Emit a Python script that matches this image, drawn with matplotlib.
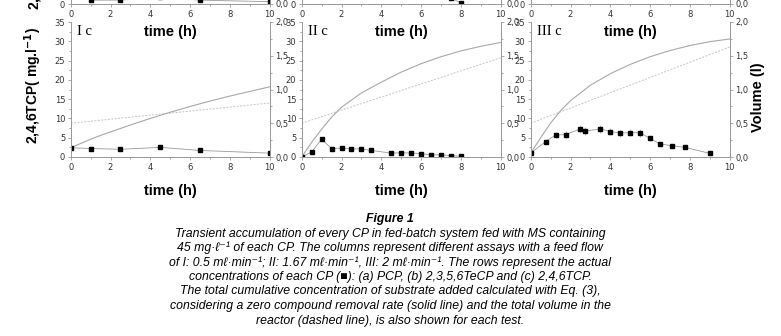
import numpy as np
import matplotlib.pyplot as plt
from matplotlib.ticker import MultipleLocator, FuncFormatter

# row (c) 2,4,6TCP measured, mg/l
t_I = [0, 1, 2.5, 4.5, 6.5, 10]
tcp_I = [2.4, 2.2, 2.0, 2.5, 1.7, 1.0]

t_II = [0, 0.5, 1, 1.5, 2, 2.5, 3, 3.5, 4.5, 5, 5.5, 6, 6.5, 7, 7.5, 8]
tcp_II = [0.0, 1.3, 4.6, 2.2, 2.3, 2.1, 2.1, 1.7, 1.0, 1.1, 1.0, 0.9, 0.5, 0.6, 0.3, 0.2]

t_III = [0, 0.75, 1.25, 1.75, 2.5, 2.75, 3.5, 4, 4.5, 5, 5.5, 6, 6.5, 7.1, 7.75, 9]
tcp_III = [1.0, 4.0, 5.7, 5.8, 7.3, 6.7, 7.3, 6.6, 6.2, 6.3, 6.3, 4.8, 3.4, 2.9, 2.5, 0.95]
err_III = [0.3, 0.4, 0.9, 0.9, 1.0, 1.1, 1.1, 1.0, 0.9, 0.9, 1.0, 0.6, 0.4, 0.3, 0.3, 0.3]

# total cumulative concentration added (solid line)
t_cum = [0, 0.5, 1, 1.5, 2, 3, 4, 5, 6, 7, 8, 9, 10]
cum_I = [2.4, 3.5, 4.6, 5.6, 6.5, 8.3, 10.0, 11.6, 13.1, 14.5, 15.8, 17.0, 18.2]
cum_II = [0.0, 3.8, 7.2, 10.3, 12.9, 16.6, 19.4, 22.0, 24.2, 26.0, 27.5, 28.7, 29.7]
cum_III = [1.0, 5.0, 8.8, 12.0, 14.6, 18.6, 21.6, 24.0, 26.0, 27.6, 28.9, 29.9, 30.6]

# reactor volume, l (dashed line)
t_vol = [0, 10]
vol_I = [0.5, 0.8]
vol_II = [0.5, 1.47]
vol_III = [0.5, 1.63]

# row (b) 2,3,5,6TeCP, only the bottom of it is in the picture
t_b_I = [1, 2.5, 4.5, 6.5, 10]
tecp_I = [1.0, 1.0, 1.7, 1.0, 0.6]
t_b_II = [7.5, 8]
tecp_II = [1.5, 0.3]

panel_names = ['I c', 'II c', 'III c']

W, H = 781, 336
fig = plt.figure(figsize=(W / 100, H / 100), dpi=100)

spine_col = '#9a9a9a'
tick_col = '#333333'
comma = FuncFormatter(lambda v, p: f'{v:.1f}'.replace('.', ','))

lefts = [70.7, 301.7, 530.7]
width = 199.0


def style_axes(ax, ax2):
    for a in (ax, ax2):
        a.spines['top'].set_visible(False)
        for s in ('left', 'right', 'bottom'):
            a.spines[s].set_color(spine_col)
            a.spines[s].set_linewidth(0.7)
        a.tick_params(which='both', direction='out', colors=spine_col,
                      labelcolor=tick_col, labelsize=6, width=0.6)
        a.tick_params(which='major', length=2.5, pad=1.5)
        a.tick_params(which='minor', length=1.5)
    ax.set_xlim(0, 10)
    ax.set_ylim(0, 35)
    ax2.set_ylim(0, 2)
    ax.xaxis.set_major_locator(MultipleLocator(2))
    ax.xaxis.set_minor_locator(MultipleLocator(1))
    ax.yaxis.set_major_locator(MultipleLocator(5))
    ax.yaxis.set_minor_locator(MultipleLocator(2.5))
    ax2.yaxis.set_major_locator(MultipleLocator(0.5))
    ax2.yaxis.set_minor_locator(MultipleLocator(0.25))
    ax2.yaxis.set_major_formatter(comma)


def make_axes(i, top_px):
    rect = [lefts[i] / W, 1 - (top_px + 135) / H, width / W, 135 / H]
    ax = fig.add_axes(rect)
    ax2 = ax.twinx()
    style_axes(ax, ax2)
    ax.set_zorder(ax2.get_zorder() + 1)
    ax.patch.set_visible(False)
    return ax, ax2


# top row, cut off by the frame
top_row = [make_axes(i, 4 - 135) for i in range(3)]
for (ax, ax2), tb, vb in zip(top_row, [t_b_I, t_b_II, None], [tecp_I, tecp_II, None]):
    if tb is not None:
        ax.plot(tb, vb, color='#999999', lw=0.6, marker='s', ms=3.5,
                mfc='black', mec='black', clip_on=True)

# middle row
cum_all = [cum_I, cum_II, cum_III]
vol_all = [vol_I, vol_II, vol_III]
meas_t = [t_I, t_II, t_III]
meas_y = [tcp_I, tcp_II, tcp_III]

for i in range(3):
    ax, ax2 = make_axes(i, 22)
    ax2.plot(t_vol, vol_all[i], color='#c4c4c4', lw=0.7, ls=(0, (2, 1.5)))
    ax.plot(t_cum, cum_all[i], color='#a8a8a8', lw=0.8)
    if i == 2:
        ax.errorbar(t_III, tcp_III, yerr=err_III, color='#999999', lw=0.6,
                    ecolor='#aaaaaa', elinewidth=0.6, capsize=0,
                    marker='s', ms=3.5, mfc='black', mec='black')
    else:
        ax.plot(meas_t[i], meas_y[i], color='#999999', lw=0.6, marker='s',
                ms=3.5, mfc='black', mec='black')
    ax.text(0.03, 0.93, panel_names[i], transform=ax.transAxes, ha='left',
            va='center', fontsize=10.5, family='Liberation Serif')
    ax.set_xlabel('time (h)', fontsize=10.5, fontweight='bold', labelpad=9,
                  family='Liberation Sans')
    # x label of the row above, which falls inside this axes
    fig.text((lefts[i] + width / 2) / W, 1 - 32 / H, 'time (h)', ha='center',
             va='center', fontsize=10.5, fontweight='bold', family='Liberation Sans')

fig.text(33 / W, 1 - 86 / H, '2,4,6TCP( mg.l$^{\\mathbf{-1}}$)', rotation=90,
         ha='center', va='center', fontsize=10, fontweight='bold',
         family='Liberation Sans')
fig.text(35 / W, 1 - 10 / H, '2,3,5,6TeCP( mg.l$^{\\mathbf{-1}}$)', rotation=90,
         ha='center', va='bottom', fontsize=10, fontweight='bold',
         family='Liberation Sans')
fig.text(758 / W, 1 - 97 / H, 'Volume (l)', rotation=90, ha='center',
         va='center', fontsize=10.5, fontweight='bold', family='Liberation Sans')

# caption
cap_font = ['Liberation Sans', 'DejaVu Sans']
fig.text(390 / W, 1 - 219 / H, 'Figure 1', ha='center', va='center',
         fontsize=8.8, style='italic', fontweight='bold', family=cap_font)
caption = [
    'Transient accumulation of every CP in fed-batch system fed with MS containing',
    '45 mg\u00b7\u2113\u207b\u00b9 of each CP. The columns represent different assays with a feed flow',
    'of I: 0.5 m\u2113\u00b7min\u207b\u00b9; II: 1.67 m\u2113\u00b7min\u207b\u00b9, III: 2 m\u2113\u00b7min\u207b\u00b9. The rows represent the actual',
    'concentrations of each CP (\u25a0): (a) PCP, (b) 2,3,5,6TeCP and (c) 2,4,6TCP.',
    'The total cumulative concentration of substrate added calculated with Eq. (3),',
    'considering a zero compound removal rate (solid line) and the total volume in the',
    'reactor (dashed line), is also shown for each test.',
]
cap_y = [234, 248, 263, 277, 291, 306, 321]
for line, yy in zip(caption, cap_y):
    fig.text(390 / W, 1 - yy / H, line, ha='center', va='center', fontsize=8.8,
             style='italic', family=cap_font)

fig.savefig('out.png', dpi=100)
